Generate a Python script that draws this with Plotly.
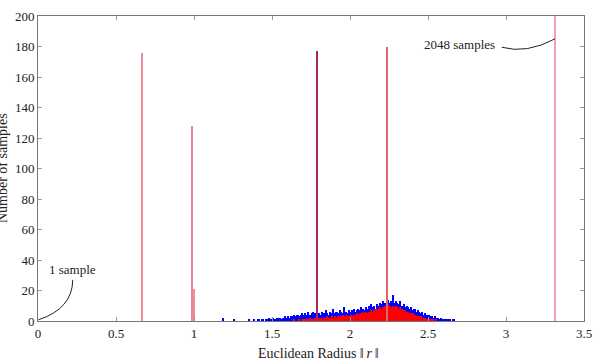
import plotly.graph_objects as go

# histogram bins: width 0.01 starting at 1.10
bin_start = 1.10
bin_width = 0.01
blue_counts = [
    0, 0, 0, 0, 0, 0, 0, 0, 2, 0,
    0, 0, 0, 0, 0, 1, 0, 0, 0, 0,
    0, 0, 0, 0, 0, 1, 0, 0, 1, 0,
    0, 1, 0, 1, 1, 0, 1, 1, 2, 1,
    2, 1, 1, 2, 2, 2, 1, 2, 3, 2,
    3, 2, 3, 3, 4, 3, 4, 3, 4, 5,
    4, 5, 4, 6, 4, 5, 6, 5, 4, 5,
    5, 4, 6, 5, 7, 5, 4, 6, 5, 8,
    5, 6, 5, 7, 6, 5, 9, 6, 5, 7,
    6, 7, 8, 6, 7, 8, 7, 9, 8, 7,
    9, 8, 10, 11, 9, 10, 8, 11, 10, 12,
    11, 13, 12, 11, 14, 12, 13, 17, 12, 13,
    12, 11, 13, 10, 11, 9, 10, 9, 8, 9,
    7, 8, 6, 7, 6, 5, 6, 4, 5, 4,
    4, 3, 3, 2, 3, 2, 2, 1, 2, 1,
    1, 1, 1, 1, 1, 0, 1, 0, 0, 0,
]
red_counts = [0] * 50 + [
    0, 0, 0, 0, 1, 0, 0, 1, 0, 1,
    1, 1, 1, 1, 2, 1, 1, 2, 1, 2,
    2, 2, 1, 2, 2, 3, 2, 2, 3, 2,
    3, 2, 3, 3, 3, 4, 3, 3, 4, 3,
    4, 3, 4, 4, 5, 4, 5, 5, 6, 5,
    6, 5, 6, 7, 6, 7, 8, 7, 8, 9,
    8, 9, 10, 9, 11, 10, 9, 10, 9, 10,
    9, 8, 9, 8, 7, 7, 6, 6, 5, 5,
    5, 4, 4, 3, 3, 3, 2, 2, 2, 1,
    1, 1, 1, 1, 0, 1, 0, 0, 0, 0,
    0, 0, 0, 0, 0, 0, 0, 0, 0, 0,
]

# isolated spikes (radius, count)
spike_x = [0.667, 0.985, 1.0, 1.789, 2.236, 3.317]
spike_counts = [176, 128, 21, 177, 180, 2048]
spike_colors = ["#f08c99", "#ee8593", "#f08c99", "#a8245e", "#e06478", "#f3a0ad"]

x_ticks = [0, 0.5, 1, 1.5, 2, 2.5, 3, 3.5]
x_tick_labels = ["0", "0.5", "1", "1.5", "2", "2.5", "3", "3.5"]
y_ticks = list(range(0, 201, 20))

FONT = "Liberation Serif"

fig = go.Figure()
fig.add_trace(go.Bar(x0=bin_start + bin_width / 2, dx=bin_width, y=blue_counts,
                     width=bin_width, marker=dict(color="#0000ff", line=dict(width=0)),
                     showlegend=False))
fig.add_trace(go.Bar(x0=bin_start + bin_width / 2, dx=bin_width, y=red_counts,
                     width=bin_width, marker=dict(color="#ff0000", line=dict(width=0)),
                     showlegend=False))
fig.add_trace(go.Bar(x=spike_x, y=spike_counts, width=0.0064,
                     marker=dict(color=spike_colors, line=dict(width=0)),
                     showlegend=False))

axis_common = dict(showgrid=False, zeroline=False, showline=True, linecolor="#777777",
                   linewidth=1, mirror="ticks", ticks="inside", ticklen=4,
                   tickcolor="#999999", tickfont=dict(family=FONT, size=13, color="#222222"))
fig.update_xaxes(range=[0, 3.5], tickvals=x_ticks, ticktext=x_tick_labels, **axis_common)
fig.update_yaxes(range=[0, 200], tickvals=y_ticks, **axis_common)

fig.update_layout(
    width=601, height=363,
    margin=dict(l=38, r=9, t=12, b=42),
    barmode="overlay", bargap=0,
    plot_bgcolor="white", paper_bgcolor="white",
    font=dict(family=FONT, size=13, color="#222222"),
    annotations=[
        dict(text="Euclidean Radius \u2016\u2009<i>r</i>\u2009\u2016", xref="paper", yref="paper",
             x=0.513, y=-0.107, yanchor="middle", xanchor="center", showarrow=False,
             font=dict(family=FONT, size=14)),
        dict(text="Number of samples", xref="paper", yref="paper",
             x=-0.065, y=0.5, textangle=-90, xanchor="center", yanchor="middle",
             showarrow=False, font=dict(family=FONT, size=14)),
        dict(text="1 sample", x=0.218, y=33.5, xref="x", yref="y", showarrow=False,
             font=dict(family=FONT, size=13)),
        dict(text="2048 samples", x=2.70, y=181.5, xref="x", yref="y", showarrow=False,
             font=dict(family=FONT, size=13)),
    ],
    shapes=[
        dict(type="path", xref="x", yref="y",
             path="M 0.003,0.8 Q 0.22,8 0.223,27", line=dict(color="#222222", width=1)),
        dict(type="path", xref="x", yref="y",
             path="M 2.973,179.5 Q 3.13,175 3.314,185", line=dict(color="#222222", width=1)),
    ],
)

fig.write_html("out.html")
